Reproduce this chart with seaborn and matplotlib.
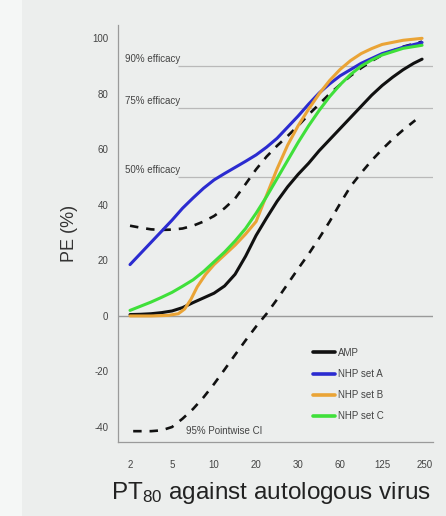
import matplotlib
matplotlib.use("Agg")
import matplotlib.pyplot as plt
import seaborn as sns
import pandas as pd
from matplotlib.patches import Rectangle

# ---------------- data ----------------
tick_labels = ["2", "5", "10", "20", "30", "60", "125", "250"]

amp_x = [0, 0.25, 0.5, 0.75, 1.0, 1.25, 1.5, 1.75, 2.0, 2.25, 2.5, 2.75, 3.0, 3.25, 3.5, 3.75,
         4.0, 4.25, 4.5, 4.75, 5.0, 5.25, 5.5, 5.75, 6.0, 6.25, 6.5, 6.75, 6.95]
amp_y = [0.5, 0.6, 0.8, 1.2, 1.8, 3.0, 4.8, 6.5, 8.2, 10.8, 15, 21.5, 29, 35.3, 41.3, 46.5,
         51, 55, 59.5, 63.5, 67.5, 71.5, 75.5, 79.5, 83, 86, 88.7, 91, 92.5]

setA_x = [0, 0.25, 0.5, 0.75, 1.0, 1.25, 1.5, 1.75, 2.0, 2.25, 2.5, 2.75, 3.0, 3.25, 3.5, 3.75,
          4.0, 4.25, 4.5, 4.75, 5.0, 5.5, 6.0, 6.5, 6.95]
setA_y = [18.5, 22.5, 26.5, 30.5, 34.5, 38.8, 42.5, 46, 49, 51.3, 53.5, 55.7, 58, 60.8, 64, 68,
          72, 76.3, 80.3, 83.6, 86.5, 91, 94.5, 96.8, 98.5]

setB_x = [0, 0.5, 0.9, 1.15, 1.3, 1.45, 1.6, 1.8, 2.0, 2.25, 2.5, 2.75, 3.0, 3.25, 3.5, 3.75,
          4.0, 4.25, 4.5, 4.75, 5.0, 5.25, 5.5, 5.75, 6.0, 6.5, 6.95]
setB_y = [0, 0, 0.2, 0.8, 2.5, 6, 10.5, 15, 18.5, 22, 25.5, 29.5, 34, 43.5, 53, 61.5,
          68.5, 74.5, 80, 84.8, 88.8, 92, 94.5, 96.3, 97.8, 99.3, 100]

setC_x = [0, 0.25, 0.5, 0.75, 1.0, 1.25, 1.5, 1.75, 2.0, 2.25, 2.5, 2.75, 3.0, 3.25, 3.5, 3.75,
          4.0, 4.25, 4.5, 4.75, 5.0, 5.25, 5.5, 5.75, 6.0, 6.5, 6.95]
setC_y = [2, 3.5, 5, 6.7, 8.5, 10.7, 13, 16, 19.5, 23, 27, 31.5, 37, 43, 49.5, 56,
          62.5, 68.5, 74, 79, 83.3, 87, 90, 92.2, 94, 96.4, 97.5]

ci_up_x = [0, 0.25, 0.5, 0.75, 1.0, 1.25, 1.5, 1.75, 2.0, 2.25, 2.5, 2.75, 3.0, 3.25, 3.5, 3.75,
           4.0, 4.25, 4.5, 4.75, 5.0, 5.25, 5.5, 5.75, 6.0, 6.5, 6.95]
ci_up_y = [32.5, 31.8, 31.2, 31, 31.1, 31.5, 32.5, 34, 36, 38.8, 42.3, 47.5, 52.8, 57.4, 61.3, 64.8,
           68.5, 72.5, 76.3, 80, 83.3, 86.5, 89.3, 91.8, 94, 97, 98.8]

ci_lo_x = [0, 0.25, 0.5, 0.75, 1.0, 1.25, 1.5, 1.75, 2.0, 2.25, 2.5, 2.75, 3.0, 3.25, 3.5, 3.75,
           4.0, 4.25, 4.5, 4.75, 5.0, 5.25, 5.5, 5.75, 6.0, 6.25, 6.5, 6.79]
ci_lo_y = [-41.5, -41.5, -41.5, -41.2, -40, -37, -33.5, -29.3, -24.5, -19.3, -14, -8.8, -3.8, 0.8, 6, 11.5,
           17, 22.3, 28, 34, 40.5, 46.7, 51.5, 56, 60, 63.7, 67, 70.5]

efficacy_levels = [90, 75, 50]
efficacy_labels = ["90% efficacy", "75% efficacy", "50% efficacy"]

series_names = ["AMP", "NHP set A", "NHP set B", "NHP set C"]
series_colors = ["#111111", "#2b2bd0", "#eaa436", "#3fe03a"]
series_lw = [1.6, 2.3, 2.3, 2.6]

# ---------------- frame ----------------
frames = []
for name, xs, ys in zip(series_names,
                        [amp_x, setA_x, setB_x, setC_x],
                        [amp_y, setA_y, setB_y, setC_y]):
    frames.append(pd.DataFrame({"pt": xs, "pe": ys, "series": name}))
df = pd.concat(frames, ignore_index=True)
ci_up = pd.DataFrame({"pt": ci_up_x, "pe": ci_up_y})
ci_lo = pd.DataFrame({"pt": ci_lo_x, "pe": ci_lo_y})

# ---------------- style ----------------
sns.set_theme(style="white")
plt.rcParams["font.family"] = ["Liberation Sans", "DejaVu Sans"]
plt.rcParams["mathtext.fontset"] = "custom"
plt.rcParams["mathtext.rm"] = "Liberation Sans"
plt.rcParams["mathtext.it"] = "Liberation Sans"
plt.rcParams["axes.unicode_minus"] = False

bg = "#eceeed"
fig = plt.figure(figsize=(4.46, 5.16), dpi=100, facecolor=bg)
fig.patches.append(Rectangle((0, 0), 22 / 446, 1, transform=fig.transFigure,
                             facecolor="#f5f7f6", edgecolor="none", zorder=-10))
ax = fig.add_axes([118 / 446, 74 / 516, 315 / 446, 417 / 516])
ax.set_facecolor(bg)

# reference lines
ax.axhline(0, color="#9a9a9a", lw=1.0, zorder=1)
for lvl, lab in zip(efficacy_levels, efficacy_labels):
    ax.hlines(lvl, 1.15, 7.25, color="#b9b9b9", lw=0.9, zorder=1)
    ax.text(-0.12, lvl + 2.6, lab, fontsize=7, color="#444444", va="center", ha="left")

# CI dashed curves
sns.lineplot(data=ci_up, x="pt", y="pe", ax=ax, color="#111111", lw=1.9,
             estimator=None, sort=True, legend=False, zorder=2,
             linestyle=(0, (3.2, 3.0)))
sns.lineplot(data=ci_lo, x="pt", y="pe", ax=ax, color="#111111", lw=1.9,
             estimator=None, sort=True, legend=False, zorder=2,
             linestyle=(5.0, (3.2, 3.0)))
ax.text(1.33, -41.3, "95% Pointwise CI", fontsize=7, color="#444444", va="center", ha="left")

# main curves
palette = dict(zip(series_names, series_colors))
sns.lineplot(data=df, x="pt", y="pe", hue="series", hue_order=series_names,
             palette=palette, estimator=None, sort=True, ax=ax, zorder=3, lw=2.2)
for line, lw in zip(ax.get_lines()[-4:], series_lw):
    line.set_linewidth(lw)
ax.get_lines()[-4].set_zorder(4)

leg = ax.legend(loc="upper left", bbox_to_anchor=(0.62, 0.226), frameon=False,
                fontsize=7, handlelength=2.2, handletextpad=0.3, labelspacing=1.15,
                borderpad=0, borderaxespad=0)
for h in leg.get_lines():
    h.set_linewidth(2.6)
for t in leg.get_texts():
    t.set_color("#444444")

# axes
ax.set_xlim(-0.286, 7.21)
ax.set_ylim(-45.4, 104.8)
ax.set_xticks(range(len(tick_labels)))
ax.set_xticklabels(tick_labels)
ax.set_yticks([-40, -20, 0, 20, 40, 60, 80, 100])
ax.tick_params(axis="both", which="both", direction="out", length=4, width=0.8,
               color="#888888", labelsize=7, labelcolor="#444444")
ax.tick_params(axis="x", pad=9)
ax.tick_params(axis="y", pad=3)
for s in ("top", "right"):
    ax.spines[s].set_visible(False)
for s in ("left", "bottom"):
    ax.spines[s].set_color("#9a9a9a")
    ax.spines[s].set_linewidth(0.9)

ax.set_ylabel("PE (%)", fontsize=13, color="#333333", labelpad=10)
ax.set_xlabel("PT$_{80}$ against autologous virus", fontsize=17.5, color="#222222")
ax.xaxis.set_label_coords(0.485, -0.092)

fig.savefig("out.png", dpi=100, facecolor=bg)
